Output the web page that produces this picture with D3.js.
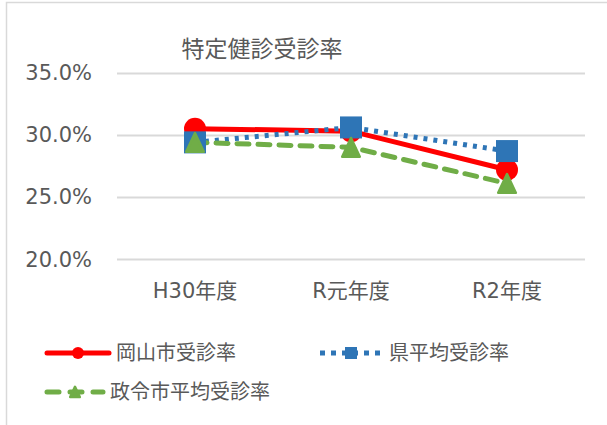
<!DOCTYPE html>
<html>
<head>
<meta charset="utf-8">
<script src="https://cdn.jsdelivr.net/npm/d3@7"></script>
<style>
  html, body { margin: 0; padding: 0; background: #fff; }
  svg { display: block; }
  text { font-family: "DejaVu Sans", "Noto Sans CJK JP", sans-serif; fill: #595959; }
</style>
</head>
<body>
<script>
// 特定健診受診率（年度別）
const categories = ["H30年度", "R元年度", "R2年度"];
const okayama = [30.5, 30.3, 27.2];      // 岡山市受診率
const prefAvg = [29.4, 30.6, 28.7];      // 県平均受診率
const cityAvg = [29.4, 29.0, 26.1];      // 政令市平均受診率
const yTicks = [20, 25, 30, 35];
const seriesNames = ["岡山市受診率", "県平均受診率", "政令市平均受診率"];

const W = 607, H = 425;
const svg = d3.select("body").append("svg").attr("width", W).attr("height", H);
svg.append("rect").attr("width", W).attr("height", H).attr("fill", "#fff");
// chart frame
svg.append("rect").attr("x", 6.5).attr("y", 2.5).attr("width", 700).attr("height", 500)
  .attr("fill", "none").attr("stroke", "#d9d9d9").attr("stroke-width", 1.5);

const x = d3.scaleBand().domain(categories).range([117, 585]);
const y = d3.scaleLinear().domain([20, 35]).range([259.3, 72.7]);

// title
svg.append("text").attr("x", 262).attr("y", 57).attr("text-anchor", "middle")
  .style("font-size", "23px").text("特定健診受診率");

// gridlines
svg.append("g").selectAll("line").data(yTicks).join("line")
  .attr("x1", 117).attr("x2", 585)
  .attr("y1", d => Math.round(y(d)) + 0.5).attr("y2", d => Math.round(y(d)) + 0.5)
  .attr("stroke", "#d9d9d9").attr("stroke-width", 2);

// y axis labels
const yAxis = d3.axisLeft(y).tickValues(yTicks).tickSize(0).tickPadding(0)
  .tickFormat(d => d3.format(".1f")(d) + "%");
svg.append("g").attr("transform", "translate(92,0)").call(yAxis)
  .call(g => g.select(".domain").remove())
  .call(g => g.selectAll("text").style("font-size", "21px").attr("fill", "#595959"));

// x axis labels
const xAxis = d3.axisBottom(x).tickSize(0).tickPadding(0);
svg.append("g").attr("transform", "translate(0,283)").call(xAxis)
  .call(g => g.select(".domain").remove())
  .call(g => g.selectAll("text").style("font-size", "21px").attr("fill", "#595959"));

const cx = d => x(d) + x.bandwidth() / 2;
const line = d3.line().x(d => cx(d[0])).y(d => y(d[1]));

const series = [
  { vals: okayama, color: "#ff0000", dash: null, cap: "round", marker: "circle" },
  { vals: prefAvg, color: "#2e75b6", dash: "4,6", cap: "butt", marker: "square" },
  { vals: cityAvg, color: "#70ad47", dash: "12,9", cap: "round", marker: "triangle" },
];

function drawMarker(g, type, px, py, size, color) {
  if (type === "circle") {
    g.append("circle").attr("cx", px).attr("cy", py).attr("r", size / 2).attr("fill", color);
  } else if (type === "square") {
    g.append("rect").attr("x", px - size / 2).attr("y", py - size / 2)
      .attr("width", size).attr("height", size).attr("fill", color);
  } else {
    const h = size * 0.85, w = size * 0.8;
    g.append("path")
      .attr("d", `M${px},${py - h / 2}L${px + w / 2},${py + h / 2}L${px - w / 2},${py + h / 2}Z`)
      .attr("fill", color).attr("stroke", color).attr("stroke-width", 2.5)
      .attr("stroke-linejoin", "round");
  }
}

// connecting lines first, markers on top
const plot = svg.append("g");
series.forEach(s => {
  const pts = categories.map((c, i) => [c, s.vals[i]]);
  plot.append("path").attr("d", line(pts)).attr("fill", "none")
    .attr("stroke", s.color).attr("stroke-width", 5)
    .attr("stroke-dasharray", s.dash).attr("stroke-linecap", s.cap);
});
series.forEach(s => {
  categories.forEach((c, i) => drawMarker(plot, s.marker, cx(c), y(s.vals[i]), 22, s.color));
});

// legend
const legendItems = [
  { x: 45, y: 353 }, { x: 318, y: 353 }, { x: 45, y: 392 }
];
legendItems.forEach((p, i) => {
  const s = series[i];
  const g = svg.append("g");
  const len = i === 2 ? 60 : 66;
  g.append("line").attr("x1", p.x + 2).attr("x2", p.x + len - 2).attr("y1", p.y).attr("y2", p.y)
    .attr("stroke", s.color).attr("stroke-width", 5)
    .attr("stroke-dasharray", i === 1 ? "5,6" : (i === 2 ? "12,11" : null))
    .attr("stroke-linecap", s.cap);
  drawMarker(g, s.marker, p.x + len / 2, p.y, 12, s.color);
  g.append("text").attr("x", p.x + len + 5).attr("y", p.y + 7)
    .style("font-size", "20px").text(seriesNames[i]);
});
</script>
</body>
</html>
